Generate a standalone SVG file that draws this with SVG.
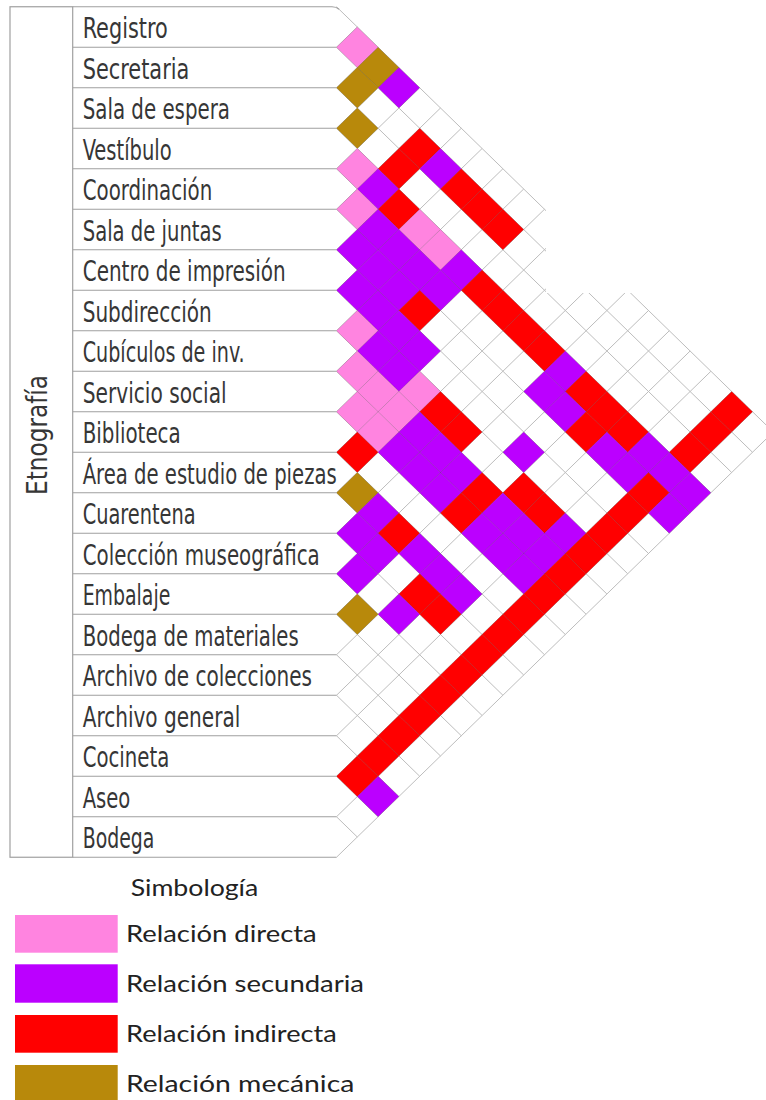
<svg xmlns="http://www.w3.org/2000/svg" width="766" height="1100" viewBox="0 0 766 1100">
<defs>
<style>
.lb{font-family:"DejaVu Sans Condensed","DejaVu Sans",sans-serif;font-stretch:condensed;font-size:28px;fill:#363636}
.lg{font-family:"Lato","Open Sans",sans-serif;font-size:23px;fill:#222}
.P{fill:#FF84E0}.V{fill:#BB00FF}.R{fill:#FF0000}.B{fill:#B8890B}
.cells use{stroke:rgba(0,0,0,0.13);stroke-width:0.8}
.grid{fill:none;stroke:#BDBDBD;stroke-width:1}
.frame{fill:none;stroke:#A0A0A0;stroke-width:1.2}
</style>
<path id="c" d="M-20.8 0L0-20.25L20.8 0L0 20.25Z"/>
</defs>
<rect width="766" height="1100" fill="#fff"/>
<g id="labels">
<g id="row-0"><text class="lb" x="82.7" y="38.3" textLength="85" lengthAdjust="spacingAndGlyphs">Registro</text></g>
<g id="row-1"><text class="lb" x="82.7" y="78.8" textLength="106.6" lengthAdjust="spacingAndGlyphs">Secretaria</text></g>
<g id="row-2"><text class="lb" x="82.7" y="119.3" textLength="147.3" lengthAdjust="spacingAndGlyphs">Sala de espera</text></g>
<g id="row-3"><text class="lb" x="82.7" y="159.8" textLength="89" lengthAdjust="spacingAndGlyphs">Vestíbulo</text></g>
<g id="row-4"><text class="lb" x="82.7" y="200.3" textLength="129.6" lengthAdjust="spacingAndGlyphs">Coordinación</text></g>
<g id="row-5"><text class="lb" x="82.7" y="240.8" textLength="139" lengthAdjust="spacingAndGlyphs">Sala de juntas</text></g>
<g id="row-6"><text class="lb" x="82.7" y="281.3" textLength="203" lengthAdjust="spacingAndGlyphs">Centro de impresión</text></g>
<g id="row-7"><text class="lb" x="82.7" y="321.8" textLength="129" lengthAdjust="spacingAndGlyphs">Subdirección</text></g>
<g id="row-8"><text class="lb" x="82.7" y="362.3" textLength="162" lengthAdjust="spacingAndGlyphs">Cubículos de inv.</text></g>
<g id="row-9"><text class="lb" x="82.7" y="402.8" textLength="144" lengthAdjust="spacingAndGlyphs">Servicio social</text></g>
<g id="row-10"><text class="lb" x="82.7" y="443.3" textLength="98" lengthAdjust="spacingAndGlyphs">Biblioteca</text></g>
<g id="row-11"><text class="lb" x="82.7" y="483.8" textLength="254" lengthAdjust="spacingAndGlyphs">Área de estudio de piezas</text></g>
<g id="row-12"><text class="lb" x="82.7" y="524.3" textLength="113" lengthAdjust="spacingAndGlyphs">Cuarentena</text></g>
<g id="row-13"><text class="lb" x="82.7" y="564.8" textLength="237" lengthAdjust="spacingAndGlyphs">Colección museográfica</text></g>
<g id="row-14"><text class="lb" x="82.7" y="605.3" textLength="87.6" lengthAdjust="spacingAndGlyphs">Embalaje</text></g>
<g id="row-15"><text class="lb" x="82.7" y="645.8" textLength="216" lengthAdjust="spacingAndGlyphs">Bodega de materiales</text></g>
<g id="row-16"><text class="lb" x="82.7" y="686.3" textLength="229.3" lengthAdjust="spacingAndGlyphs">Archivo de colecciones</text></g>
<g id="row-17"><text class="lb" x="82.7" y="726.8" textLength="157.6" lengthAdjust="spacingAndGlyphs">Archivo general</text></g>
<g id="row-18"><text class="lb" x="82.7" y="767.3" textLength="86.6" lengthAdjust="spacingAndGlyphs">Cocineta</text></g>
<g id="row-19"><text class="lb" x="82.7" y="807.8" textLength="47.6" lengthAdjust="spacingAndGlyphs">Aseo</text></g>
<g id="row-20"><text class="lb" x="82.7" y="848.3" textLength="71.6" lengthAdjust="spacingAndGlyphs">Bodega</text></g>
<g id="group-etnografia"><text class="lb" transform="translate(47 435) rotate(-90)" x="0" y="0" text-anchor="middle" textLength="120" lengthAdjust="spacingAndGlyphs">Etnografía</text></g>
</g>
<g id="grid" class="grid">
<path d="M336.5 6.75L773.3 432M336.5 47.25L752.5 452.25M336.5 87.75L731.7 472.5M336.5 128.25L710.9 492.75M336.5 168.75L690.1 513M336.5 209.25L669.3 533.25M336.5 249.75L648.5 553.5M336.5 290.25L627.7 573.75M336.5 330.75L606.9 594M336.5 371.25L586.1 614.25M336.5 411.75L565.3 634.5M336.5 452.25L544.5 654.75M336.5 492.75L523.7 675M336.5 533.25L502.9 695.25M336.5 573.75L482.1 715.5M336.5 614.25L461.3 735.75M336.5 654.75L440.5 756M336.5 695.25L419.7 776.25M336.5 735.75L398.9 796.5M336.5 776.25L378.1 816.75M336.5 816.75L357.3 837"/>
<path d="M336.5 47.25L357.3 27M336.5 87.75L378.1 47.25M336.5 128.25L398.9 67.5M336.5 168.75L419.7 87.75M336.5 209.25L440.5 108M336.5 249.75L461.3 128.25M336.5 290.25L482.1 148.5M336.5 330.75L502.9 168.75M336.5 371.25L523.7 189M336.5 411.75L544.5 209.25M336.5 452.25L565.3 229.5M336.5 492.75L586.1 249.75M336.5 533.25L606.9 270M336.5 573.75L627.7 290.25M336.5 614.25L648.5 310.5M336.5 654.75L669.3 330.75M336.5 695.25L690.1 351M336.5 735.75L710.9 371.25M336.5 776.25L731.7 391.5M336.5 816.75L752.5 411.75M336.5 857.25L773.3 432"/>
</g>
<g id="cells" class="cells">
<use href="#c" class="P" x="357.3" y="47.25"/>
<use href="#c" class="B" x="378.1" y="67.5"/>
<use href="#c" class="V" x="398.9" y="87.75"/>
<use href="#c" class="R" x="731.7" y="411.75"/>
<use href="#c" class="B" x="357.3" y="87.75"/>
<use href="#c" class="R" x="419.7" y="148.5"/>
<use href="#c" class="V" x="440.5" y="168.75"/>
<use href="#c" class="R" x="461.3" y="189"/>
<use href="#c" class="R" x="482.1" y="209.25"/>
<use href="#c" class="R" x="502.9" y="229.5"/>
<use href="#c" class="R" x="710.9" y="432"/>
<use href="#c" class="B" x="357.3" y="128.25"/>
<use href="#c" class="R" x="398.9" y="168.75"/>
<use href="#c" class="R" x="690.1" y="452.25"/>
<use href="#c" class="P" x="357.3" y="168.75"/>
<use href="#c" class="V" x="378.1" y="189"/>
<use href="#c" class="R" x="398.9" y="209.25"/>
<use href="#c" class="P" x="419.7" y="229.5"/>
<use href="#c" class="P" x="440.5" y="249.75"/>
<use href="#c" class="V" x="461.3" y="270"/>
<use href="#c" class="R" x="482.1" y="290.25"/>
<use href="#c" class="R" x="502.9" y="310.5"/>
<use href="#c" class="R" x="523.7" y="330.75"/>
<use href="#c" class="R" x="544.5" y="351"/>
<use href="#c" class="V" x="565.3" y="371.25"/>
<use href="#c" class="R" x="586.1" y="391.5"/>
<use href="#c" class="R" x="606.9" y="411.75"/>
<use href="#c" class="R" x="627.7" y="432"/>
<use href="#c" class="V" x="648.5" y="452.25"/>
<use href="#c" class="V" x="669.3" y="472.5"/>
<use href="#c" class="V" x="690.1" y="492.75"/>
<use href="#c" class="P" x="357.3" y="209.25"/>
<use href="#c" class="V" x="378.1" y="229.5"/>
<use href="#c" class="V" x="398.9" y="249.75"/>
<use href="#c" class="V" x="419.7" y="270"/>
<use href="#c" class="V" x="440.5" y="290.25"/>
<use href="#c" class="V" x="544.5" y="391.5"/>
<use href="#c" class="V" x="565.3" y="411.75"/>
<use href="#c" class="R" x="586.1" y="432"/>
<use href="#c" class="V" x="606.9" y="452.25"/>
<use href="#c" class="V" x="627.7" y="472.5"/>
<use href="#c" class="R" x="648.5" y="492.75"/>
<use href="#c" class="V" x="669.3" y="513"/>
<use href="#c" class="V" x="357.3" y="249.75"/>
<use href="#c" class="V" x="378.1" y="270"/>
<use href="#c" class="V" x="398.9" y="290.25"/>
<use href="#c" class="R" x="419.7" y="310.5"/>
<use href="#c" class="R" x="627.7" y="513"/>
<use href="#c" class="V" x="357.3" y="290.25"/>
<use href="#c" class="V" x="378.1" y="310.5"/>
<use href="#c" class="V" x="398.9" y="330.75"/>
<use href="#c" class="V" x="419.7" y="351"/>
<use href="#c" class="V" x="523.7" y="452.25"/>
<use href="#c" class="R" x="606.9" y="533.25"/>
<use href="#c" class="P" x="357.3" y="330.75"/>
<use href="#c" class="V" x="378.1" y="351"/>
<use href="#c" class="V" x="398.9" y="371.25"/>
<use href="#c" class="P" x="419.7" y="391.5"/>
<use href="#c" class="R" x="440.5" y="411.75"/>
<use href="#c" class="R" x="461.3" y="432"/>
<use href="#c" class="R" x="523.7" y="492.75"/>
<use href="#c" class="R" x="544.5" y="513"/>
<use href="#c" class="V" x="565.3" y="533.25"/>
<use href="#c" class="R" x="586.1" y="553.5"/>
<use href="#c" class="P" x="357.3" y="371.25"/>
<use href="#c" class="P" x="378.1" y="391.5"/>
<use href="#c" class="P" x="398.9" y="411.75"/>
<use href="#c" class="V" x="419.7" y="432"/>
<use href="#c" class="V" x="440.5" y="452.25"/>
<use href="#c" class="V" x="461.3" y="472.5"/>
<use href="#c" class="R" x="482.1" y="492.75"/>
<use href="#c" class="V" x="502.9" y="513"/>
<use href="#c" class="V" x="523.7" y="533.25"/>
<use href="#c" class="V" x="544.5" y="553.5"/>
<use href="#c" class="R" x="565.3" y="573.75"/>
<use href="#c" class="P" x="357.3" y="411.75"/>
<use href="#c" class="P" x="378.1" y="432"/>
<use href="#c" class="V" x="398.9" y="452.25"/>
<use href="#c" class="V" x="419.7" y="472.5"/>
<use href="#c" class="V" x="440.5" y="492.75"/>
<use href="#c" class="R" x="461.3" y="513"/>
<use href="#c" class="V" x="482.1" y="533.25"/>
<use href="#c" class="V" x="502.9" y="553.5"/>
<use href="#c" class="V" x="523.7" y="573.75"/>
<use href="#c" class="R" x="544.5" y="594"/>
<use href="#c" class="R" x="357.3" y="452.25"/>
<use href="#c" class="R" x="523.7" y="614.25"/>
<use href="#c" class="B" x="357.3" y="492.75"/>
<use href="#c" class="V" x="378.1" y="513"/>
<use href="#c" class="R" x="398.9" y="533.25"/>
<use href="#c" class="V" x="419.7" y="553.5"/>
<use href="#c" class="V" x="440.5" y="573.75"/>
<use href="#c" class="V" x="461.3" y="594"/>
<use href="#c" class="R" x="502.9" y="634.5"/>
<use href="#c" class="V" x="357.3" y="533.25"/>
<use href="#c" class="V" x="378.1" y="553.5"/>
<use href="#c" class="R" x="419.7" y="594"/>
<use href="#c" class="R" x="440.5" y="614.25"/>
<use href="#c" class="R" x="482.1" y="654.75"/>
<use href="#c" class="V" x="357.3" y="573.75"/>
<use href="#c" class="V" x="398.9" y="614.25"/>
<use href="#c" class="R" x="461.3" y="675"/>
<use href="#c" class="B" x="357.3" y="614.25"/>
<use href="#c" class="R" x="440.5" y="695.25"/>
<use href="#c" class="R" x="419.7" y="715.5"/>
<use href="#c" class="R" x="398.9" y="735.75"/>
<use href="#c" class="R" x="378.1" y="756"/>
<use href="#c" class="R" x="357.3" y="776.25"/>
<use href="#c" class="V" x="378.1" y="796.5"/>
</g>
<rect id="notch" x="546" y="0" width="220" height="293" fill="#fff"/>
<g id="frame" class="frame">
<rect x="10" y="6.75" width="62.7" height="850.5"/>
<path d="M72.7 6.75H332Q336.5 6.75 339 9.2M72.7 857.25H336.5"/>
<path d="M72.7 47.25H336.5M72.7 87.75H336.5M72.7 128.25H336.5M72.7 168.75H336.5M72.7 209.25H336.5M72.7 249.75H336.5M72.7 290.25H336.5M72.7 330.75H336.5M72.7 371.25H336.5M72.7 411.75H336.5M72.7 452.25H336.5M72.7 492.75H336.5M72.7 533.25H336.5M72.7 573.75H336.5M72.7 614.25H336.5M72.7 654.75H336.5M72.7 695.25H336.5M72.7 735.75H336.5M72.7 776.25H336.5M72.7 816.75H336.5"/>
</g>
<g id="legend">
<text class="lg" x="130.7" y="896" textLength="127.6" lengthAdjust="spacingAndGlyphs">Simbología</text>
<g id="leg-directa"><rect class="P" x="15" y="915" width="102.7" height="37.7"/><text class="lg" x="126" y="941.7" textLength="190.7" lengthAdjust="spacingAndGlyphs">Relación directa</text></g>
<g id="leg-secundaria"><rect class="V" x="15" y="964.3" width="102.7" height="38.4"/><text class="lg" x="126" y="991.7" textLength="238" lengthAdjust="spacingAndGlyphs">Relación secundaria</text></g>
<g id="leg-indirecta"><rect class="R" x="15" y="1015" width="102.7" height="37.7"/><text class="lg" x="126" y="1041.7" textLength="210.7" lengthAdjust="spacingAndGlyphs">Relación indirecta</text></g>
<g id="leg-mecanica"><rect class="B" x="15" y="1065" width="102.7" height="35"/><text class="lg" x="126" y="1091.7" textLength="228.3" lengthAdjust="spacingAndGlyphs">Relación mecánica</text></g>
</g>
</svg>
